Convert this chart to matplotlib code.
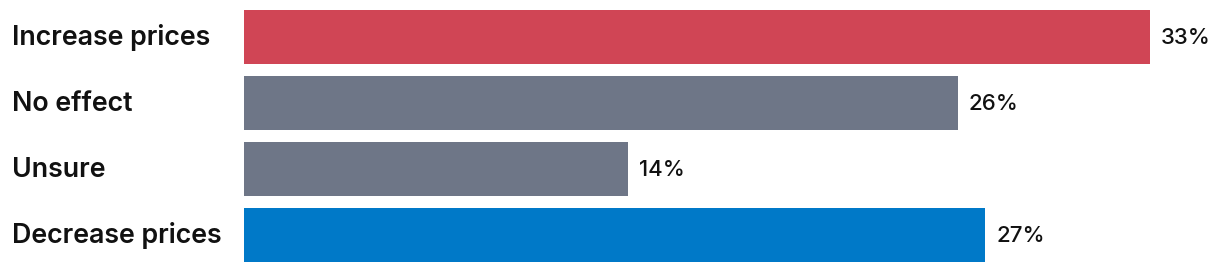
import matplotlib
matplotlib.use("Agg")
import matplotlib.pyplot as plt

categories = ["Increase prices", "No effect", "Unsure", "Decrease prices"]
values = [33, 26, 14, 27]
value_labels = ["33%", "26%", "14%", "27%"]
colors = ["#D04555", "#6E7687", "#6E7687", "#0079C8"]

W, H = 1220, 272
fig = plt.figure(figsize=(W / 100, H / 100), dpi=100)
ax = fig.add_axes([244 / W, 0, 1 - 244 / W, 1])
px_per_unit = (1150 - 244) / 33.0
ax.set_xlim(0, (W - 244) / px_per_unit)
pitch = 66.0
ax.set_ylim((H - 36.5) / pitch, -36.5 / pitch)

ypos = list(range(len(categories)))
ax.barh(ypos, values, height=54 / pitch, color=colors, left=0)
for y, v, lab in zip(ypos, values, value_labels):
    ax.annotate(lab, (v, y), xytext=(8.0, -5.2), textcoords="offset points",
                va="baseline", ha="left", fontsize=16, fontfamily="Inter",
                fontweight="medium", color="#111111")
for y, cat in zip(ypos, categories):
    fy = 1 - (36.5 + y * pitch + 8.5) / H
    fig.text(12 / W, fy, cat, va="baseline", ha="left", fontsize=19.3,
             fontfamily="Inter", fontweight="semibold", color="#111111")
ax.axis("off")
fig.savefig("out.png", dpi=100)
